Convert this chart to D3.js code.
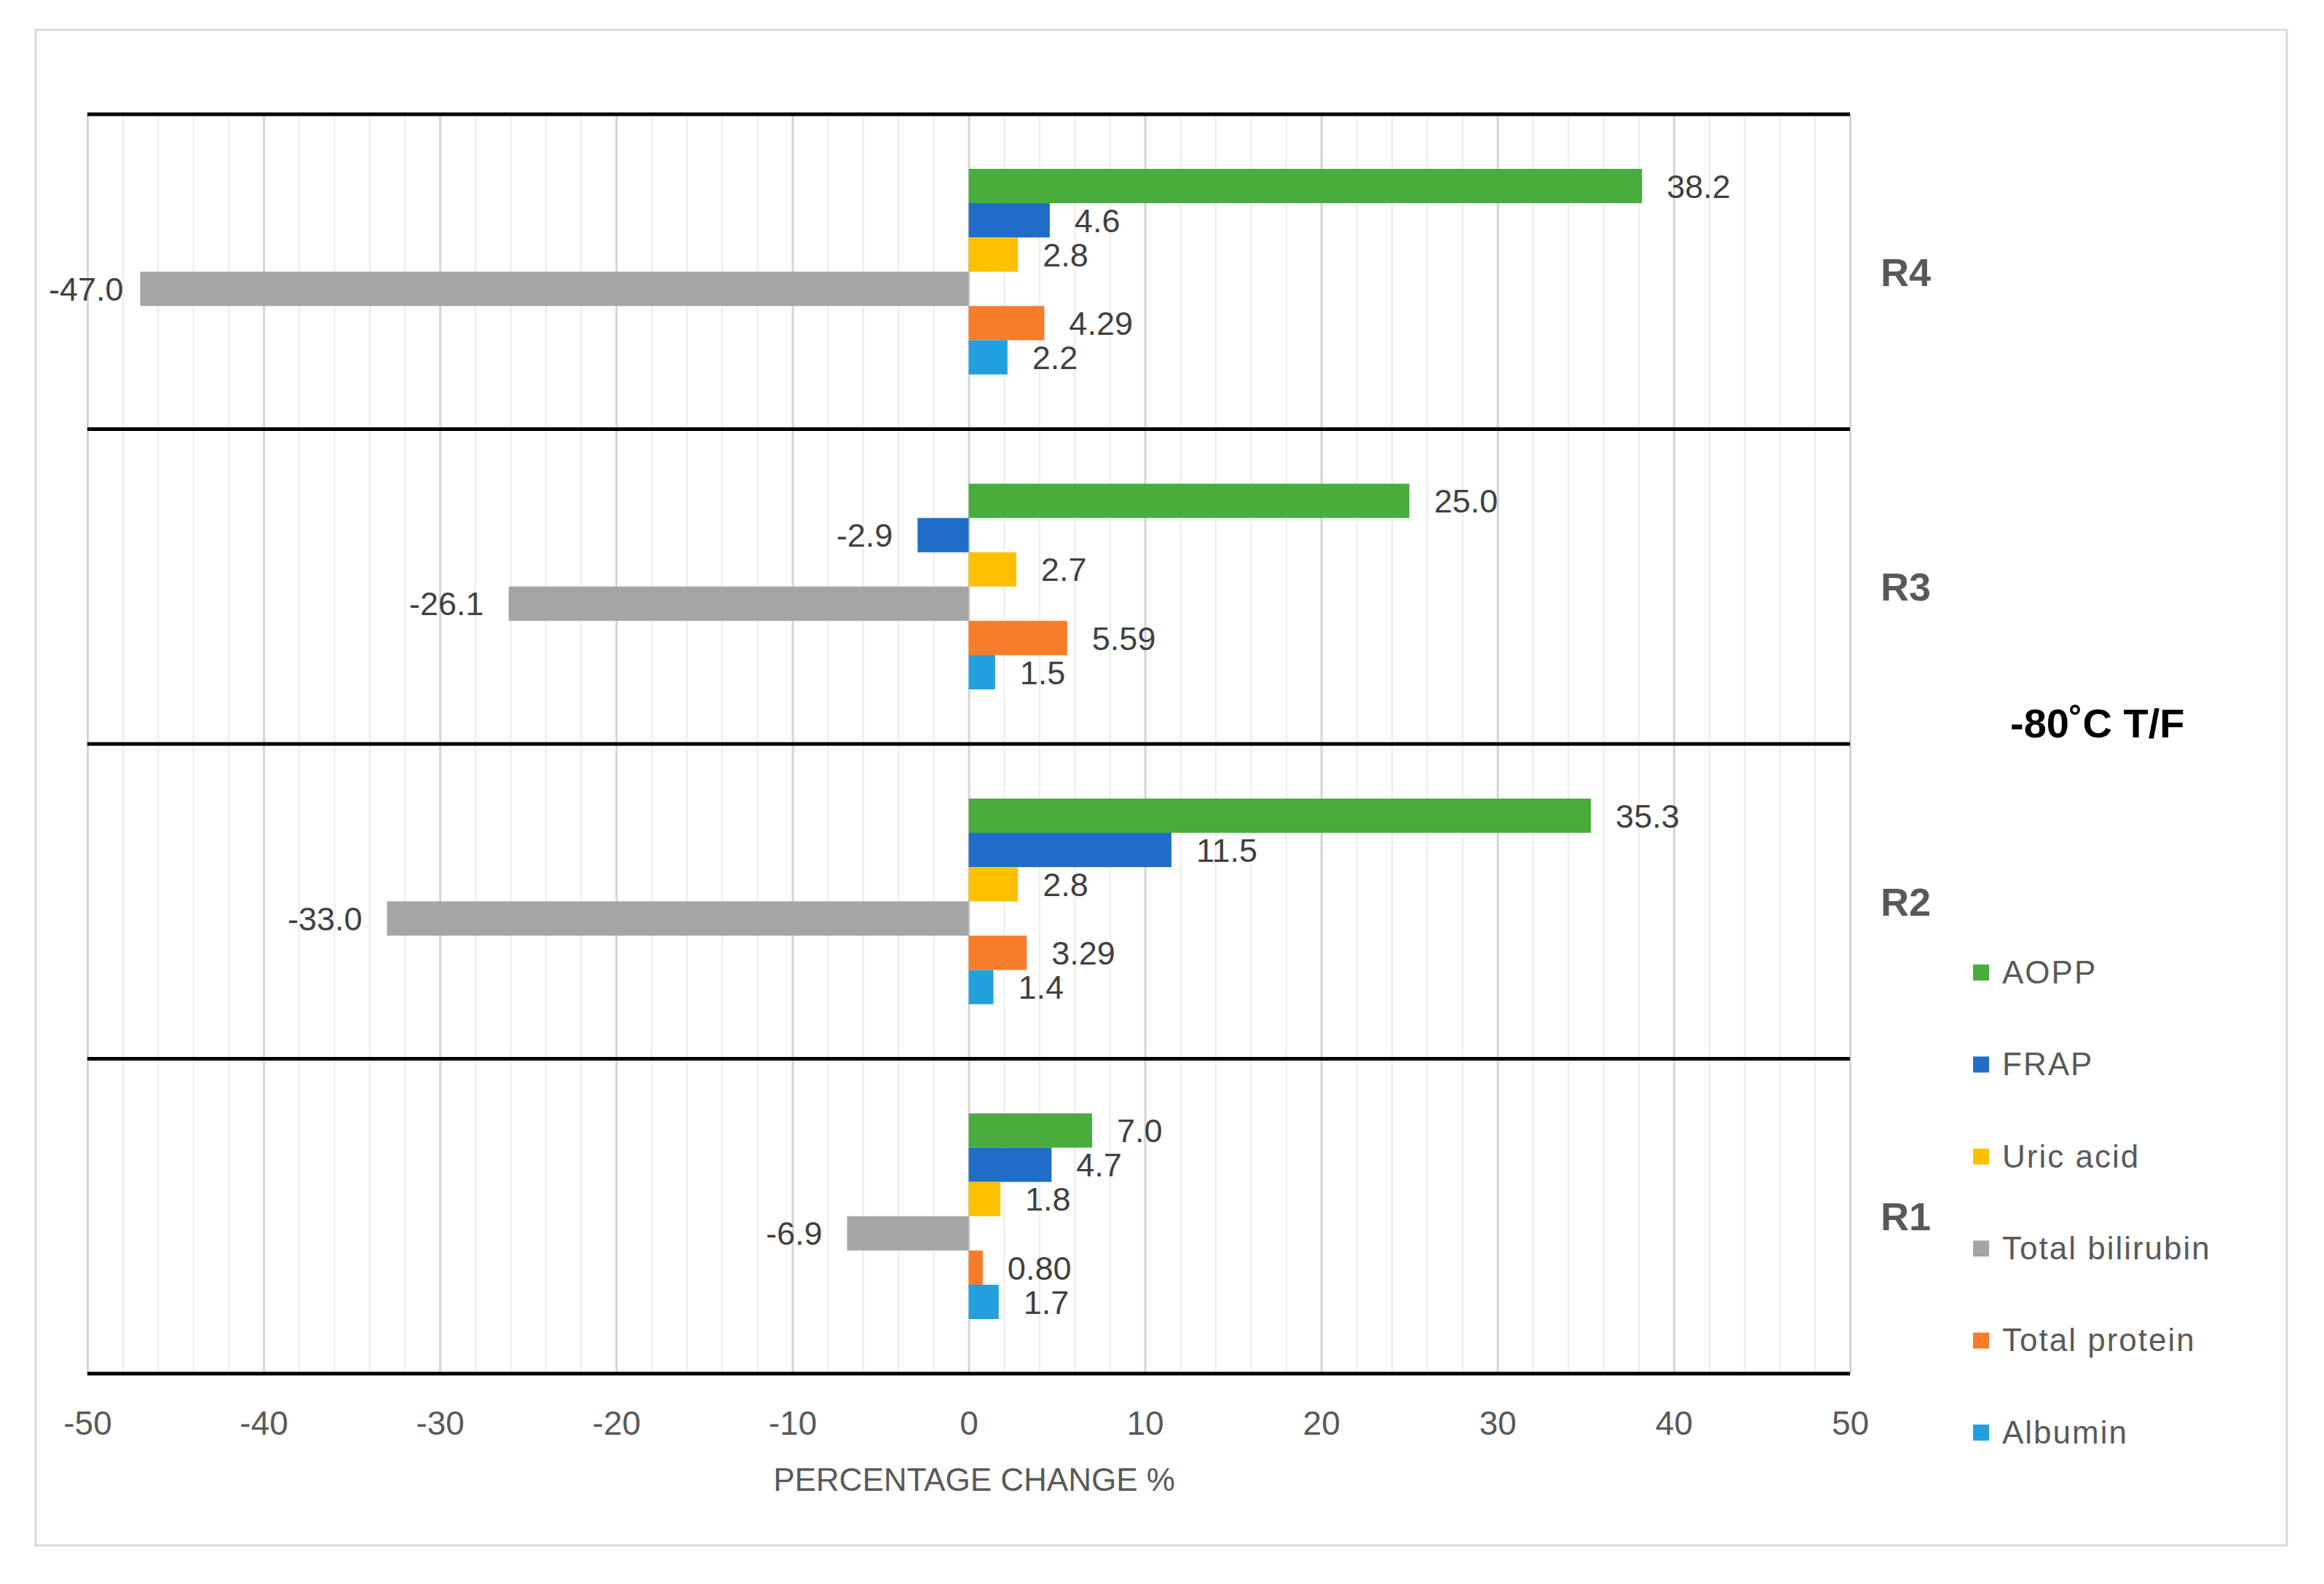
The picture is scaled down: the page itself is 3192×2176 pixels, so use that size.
<!DOCTYPE html>
<html>
<head>
<meta charset="utf-8">
<script src="https://cdn.jsdelivr.net/npm/d3@7"></script>
<style>
  html, body { margin: 0; padding: 0; background: #fff; }
  svg { display: block; }
</style>
</head>
<body>
<div id="chart-container"></div>
<script>
const W = 3192, H = 2176;

// Data (groups listed top to bottom)
const groups = ["R4", "R3", "R2", "R1"];
const seriesNames = ["AOPP", "FRAP", "Uric acid", "Total bilirubin", "Total protein", "Albumin"];
const seriesColors = ["#48ad3c", "#1f6dc6", "#ffc000", "#a5a5a5", "#f77d2a", "#21a0dd"];
const seriesDecimals = [1, 1, 1, 1, 2, 1];

const aoppVals = [38.2, 25.0, 35.3, 7.0];
const frapVals = [4.6, -2.9, 11.5, 4.7];
const uricVals = [2.8, 2.7, 2.8, 1.8];
const bilirubinVals = [-47.0, -26.1, -33.0, -6.9];
const proteinVals = [4.29, 5.59, 3.29, 0.80];
const albuminVals = [2.2, 1.5, 1.4, 1.7];

const seriesVals = [aoppVals, frapVals, uricVals, bilirubinVals, proteinVals, albuminVals];

const xTicks = [-50, -40, -30, -20, -10, 0, 10, 20, 30, 40, 50];
const xMinorTicks = d3.range(-50, 51, 2);
const xAxisName = "PERCENTAGE CHANGE %";
const sideTitle = "-80\u02DAC T/F";

const plot = {left: 120, right: 2541, top: 157, bottom: 1887};

var svg = d3.select("#chart-container")
    .append("svg")
    .attr("width", W)
    .attr("height", H);

// chart border
svg.append("rect")
    .attr("x", 49).attr("y", 41)
    .attr("width", 3092).attr("height", 2082)
    .attr("fill", "#fff")
    .attr("stroke", "#d9d9d9")
    .attr("stroke-width", 3);

var xScale = d3.scaleLinear()
    .domain([-50, 50])
    .range([plot.left, plot.right]);

var yGroup = d3.scaleBand()
    .domain(groups)
    .range([plot.top, plot.bottom]);

var ySeries = d3.scaleBand()
    .domain(seriesNames)
    .range([75, yGroup.bandwidth() - 75]);

// vertical gridlines
var grid = svg.append("g")
    .attr("transform", `translate(0, ${plot.bottom})`)
    .call(d3.axisBottom(xScale)
        .tickValues(xMinorTicks)
        .tickSize(-(plot.bottom - plot.top))
        .tickFormat(""));
grid.select(".domain").remove();
grid.selectAll(".tick line")
    .attr("stroke", d => d % 10 === 0 ? "#d4d4d4" : "#ebebeb")
    .attr("stroke-width", d => d % 10 === 0 ? 3 : 2);

// bars
var groupG = svg.selectAll(".group")
    .data(groups)
    .enter().append("g")
    .attr("class", "group")
    .attr("transform", d => `translate(0, ${yGroup(d)})`);

var barData = [];
groups.forEach((g, gi) => {
    seriesNames.forEach((s, si) => {
        barData.push({group: g, series: s, si: si, value: seriesVals[si][gi]});
    });
});

groupG.selectAll("rect")
    .data(g => barData.filter(d => d.group === g))
    .enter().append("rect")
    .attr("x", d => xScale(Math.min(0, d.value)))
    .attr("y", d => ySeries(d.series))
    .attr("width", d => Math.abs(xScale(d.value) - xScale(0)))
    .attr("height", ySeries.bandwidth())
    .attr("fill", d => seriesColors[d.si]);

// data labels
groupG.selectAll(".val")
    .data(g => barData.filter(d => d.group === g))
    .enter().append("text")
    .attr("class", "val")
    .attr("y", d => ySeries(d.series) + ySeries.bandwidth() / 2)
    .attr("dy", "0.36em")
    .attr("font-family", "'Liberation Sans', Arial, sans-serif")
    .attr("font-size", 45)
    .attr("fill", "#404040")
    .text(d => d.value.toFixed(seriesDecimals[d.si]))
    .each(function (d) {
        var t = d3.select(this);
        if (d.value >= 0) {
            t.attr("x", xScale(d.value) + 34).attr("text-anchor", "start");
        } else {
            var w = this.getComputedTextLength();
            var end = Math.max(xScale(d.value) - 34, 67 + w);
            t.attr("x", end).attr("text-anchor", "end");
        }
    });

// group boundary lines
svg.selectAll(".sep")
    .data(groups.map(g => yGroup(g)).concat([plot.bottom]))
    .enter().append("line")
    .attr("x1", plot.left).attr("x2", plot.right)
    .attr("y1", d => d).attr("y2", d => d)
    .attr("stroke", "#000")
    .attr("stroke-width", 5);

// x tick labels (plain hyphen for negatives, as in the original)
var xAxis = svg.append("g")
    .attr("transform", `translate(0, ${plot.bottom})`)
    .call(d3.axisBottom(xScale)
        .tickValues(xTicks)
        .tickSize(0)
        .tickFormat(d => String(d)));
xAxis.select(".domain").remove();
xAxis.selectAll("text")
    .attr("y", 67)
    .attr("dy", "0.36em")
    .attr("font-family", "'Liberation Sans', Arial, sans-serif")
    .attr("font-size", 46)
    .attr("fill", "#595959");

// x axis title
svg.append("text")
    .attr("x", 1338)
    .attr("y", 2032)
    .attr("dy", "0.36em")
    .attr("text-anchor", "middle")
    .attr("font-family", "'Liberation Sans', Arial, sans-serif")
    .attr("font-size", 44)
    .attr("fill", "#595959")
    .text(xAxisName);

// group labels on the right
svg.selectAll(".glabel")
    .data(groups)
    .enter().append("text")
    .attr("x", 2583)
    .attr("y", d => yGroup(d) + yGroup.bandwidth() / 2)
    .attr("dy", "0.36em")
    .attr("font-family", "'Liberation Sans', Arial, sans-serif")
    .attr("font-weight", "bold")
    .attr("font-size", 54)
    .attr("fill", "#595959")
    .text(d => d);

// side title
svg.append("text")
    .attr("x", 2761)
    .attr("y", 993)
    .attr("dy", "0.36em")
    .attr("font-family", "'Liberation Sans', Arial, sans-serif")
    .attr("font-weight", "bold")
    .attr("font-size", 56)
    .attr("fill", "#000")
    .text(sideTitle);

// legend
var legendY = d3.scalePoint()
    .domain(seriesNames)
    .range([1335, 1967]);

var legend = svg.selectAll(".legend")
    .data(seriesNames)
    .enter().append("g")
    .attr("transform", d => `translate(2710, ${legendY(d)})`);

legend.append("rect")
    .attr("x", 0).attr("y", -10)
    .attr("width", 22).attr("height", 22)
    .attr("fill", (d, i) => seriesColors[i]);

legend.append("text")
    .attr("x", 40)
    .attr("y", 0)
    .attr("dy", "0.36em")
    .attr("font-family", "'Liberation Sans', Arial, sans-serif")
    .attr("font-size", 44)
    .attr("letter-spacing", 2)
    .attr("fill", "#595959")
    .text(d => d);
</script>
</body>
</html>
